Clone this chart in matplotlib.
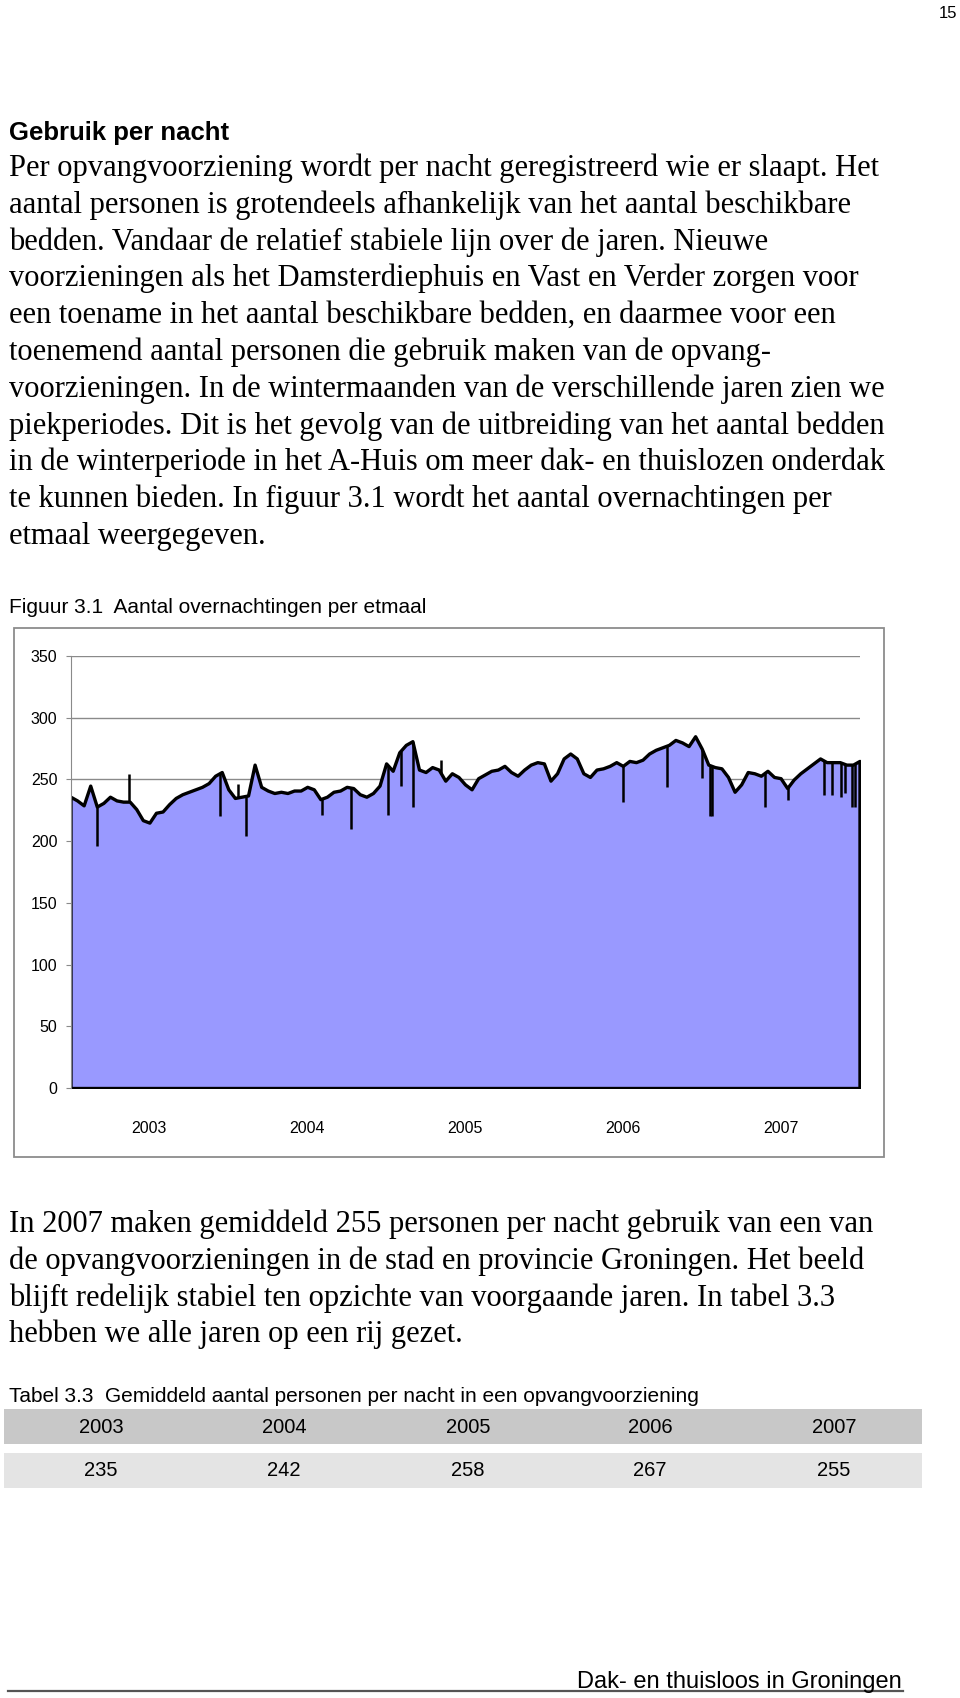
import numpy as np
import matplotlib
matplotlib.use('Agg')
import matplotlib.pyplot as plt
from matplotlib.patches import Rectangle
from matplotlib.lines import Line2D

# persons per night at half-month steps (Jan 2003 .. Jan 2008)
nights = [236, 233, 229, 245, 228, 231, 236, 233, 232, 232, 226, 217,
          215, 223, 224, 230, 235, 238, 240, 242, 244, 247, 253, 256,   # 2003
          242, 235, 236, 237, 262, 244, 241, 239, 240, 239, 241, 241,
          244, 242, 234, 236, 240, 241, 244, 243, 238, 236, 239, 245,   # 2004
          263, 257, 272, 278, 281, 258, 256, 260, 258, 249, 255, 252,
          246, 242, 251, 254, 257, 258, 261, 256, 253, 258, 262, 264,   # 2005
          263, 249, 255, 267, 271, 267, 255, 252, 258, 259, 261, 264,
          261, 265, 264, 266, 271, 274, 276, 278, 282, 280, 277, 285,   # 2006
          275, 262, 260, 259, 252, 240, 246, 256, 255, 253, 257, 252,
          251, 243, 250, 255, 259, 263, 267, 264, 264, 264, 262, 262,   # 2007
          265]

# single-night outliers (date as fractional year, value)
spike_t = [2003.165, 2003.370, 2003.947, 2004.063, 2004.112, 2004.593, 2004.775,
           2005.010, 2005.092, 2005.168, 2005.345, 2006.499, 2006.778, 2007.004,
           2007.052, 2007.067, 2007.403, 2007.549, 2007.775, 2007.823, 2007.880,
           2007.908, 2007.950, 2007.971]
spike_v = [196, 254, 220, 246, 204, 221, 210, 221, 245, 228, 266, 232, 244, 251,
           220, 220, 228, 233, 237, 237, 236, 239, 228, 228]

years = ['2003', '2004', '2005', '2006', '2007']
avg_per_night = [235, 242, 258, 267, 255]

body_top = [
    "Per opvangvoorziening wordt per nacht geregistreerd wie er slaapt. Het",
    "aantal personen is grotendeels afhankelijk van het aantal beschikbare",
    "bedden. Vandaar de relatief stabiele lijn over de jaren. Nieuwe",
    "voorzieningen als het Damsterdiephuis en Vast en Verder zorgen voor",
    "een toename in het aantal beschikbare bedden, en daarmee voor een",
    "toenemend aantal personen die gebruik maken van de opvang-",
    "voorzieningen. In de wintermaanden van de verschillende jaren zien we",
    "piekperiodes. Dit is het gevolg van de uitbreiding van het aantal bedden",
    "in de winterperiode in het A-Huis om meer dak- en thuislozen onderdak",
    "te kunnen bieden. In figuur 3.1 wordt het aantal overnachtingen per",
    "etmaal weergegeven.",
]
body_bottom = [
    "In 2007 maken gemiddeld 255 personen per nacht gebruik van een van",
    "de opvangvoorzieningen in de stad en provincie Groningen. Het beeld",
    "blijft redelijk stabiel ten opzichte van voorgaande jaren. In tabel 3.3",
    "hebben we alle jaren op een rij gezet.",
]

W, H = 960, 1698
SANS = ['Liberation Sans', 'DejaVu Sans']
SERIF = ['Liberation Serif', 'DejaVu Serif']


def fx(px):
    return px / W


def fy(py):
    return 1 - py / H


fig = plt.figure(figsize=(9.6, 16.98), dpi=100)
fig.patch.set_facecolor('white')

# page number and texts
fig.text(fx(957), fy(14), '15', family=SANS, fontsize=12, ha='right', va='center')
fig.text(fx(9), fy(140), 'Gebruik per nacht', family=SANS, fontsize=18.5,
         weight='bold', va='baseline')
for i, line in enumerate(body_top):
    fig.text(fx(9), fy(176 + i * 36.8), line, family=SERIF, fontsize=22, va='baseline')
fig.text(fx(9), fy(613), 'Figuur 3.1  Aantal overnachtingen per etmaal',
         family=SANS, fontsize=15, va='baseline')
for i, line in enumerate(body_bottom):
    fig.text(fx(9), fy(1232 + i * 36.8), line, family=SERIF, fontsize=22, va='baseline')

# chart frame
fig.patches.append(Rectangle((fx(14), fy(1157)), fx(870), (1157 - 628) / H,
                             transform=fig.transFigure, fill=False,
                             edgecolor='#8c8c8c', lw=1.3))

ax = fig.add_axes([fx(70.5), fy(1088), fx(789), (1088 - 656) / H])
t = 2003 + np.arange(len(nights)) / 24.0
ax.fill_between(t, nights, 0, facecolor='#9999ff', edgecolor='black',
                linewidth=2.4, zorder=2)
base = np.interp(spike_t, t, nights)
ax.vlines(spike_t, spike_v, base, colors='black', linewidth=1.8, zorder=3)

ax.set_xlim(2003, 2008)
ax.set_ylim(0, 350)
ax.set_yticks(range(0, 351, 50))
ax.yaxis.grid(True, color='#8a8a8a', linewidth=1.0)
ax.set_axisbelow(True)
ax.set_xticks([2003.5, 2004.5, 2005.5, 2006.5, 2007.5])
ax.set_xticklabels(years)
for s in ['top', 'right', 'bottom']:
    ax.spines[s].set_visible(False)
ax.spines['left'].set_color('#8a8a8a')
ax.tick_params(axis='y', length=3.5, color='#8a8a8a', pad=6, labelsize=11.5)
ax.tick_params(axis='x', length=0, pad=24, labelsize=11.5)
for lab in ax.get_xticklabels() + ax.get_yticklabels():
    lab.set_family(SANS)

# table
fig.text(fx(9), fy(1402), 'Tabel 3.3  Gemiddeld aantal personen per nacht in een opvangvoorziening',
         family=SANS, fontsize=15, va='baseline')
fig.patches.append(Rectangle((fx(4), fy(1444)), fx(918), 35 / H,
                             transform=fig.transFigure, facecolor='#c8c8c8', edgecolor='none'))
fig.patches.append(Rectangle((fx(4), fy(1488)), fx(918), 35 / H,
                             transform=fig.transFigure, facecolor='#e4e4e4', edgecolor='none'))
col_x = [101, 284, 468, 650, 834]
for cx, yr, val in zip(col_x, years, avg_per_night):
    fig.text(fx(cx), fy(1433), yr, family=SANS, fontsize=14.5, ha='center', va='baseline')
    fig.text(fx(cx), fy(1476), str(val), family=SANS, fontsize=14.5, ha='center', va='baseline')

# footer
fig.add_artist(Line2D([fx(8), fx(903)], [fy(1690.5), fy(1690.5)],
                      transform=fig.transFigure, color='#555555', lw=1.6))
fig.text(fx(902), fy(1688), 'Dak- en thuisloos in Groningen', family=SANS,
         fontsize=17, ha='right', va='baseline')

fig.savefig('out.png', dpi=100)
